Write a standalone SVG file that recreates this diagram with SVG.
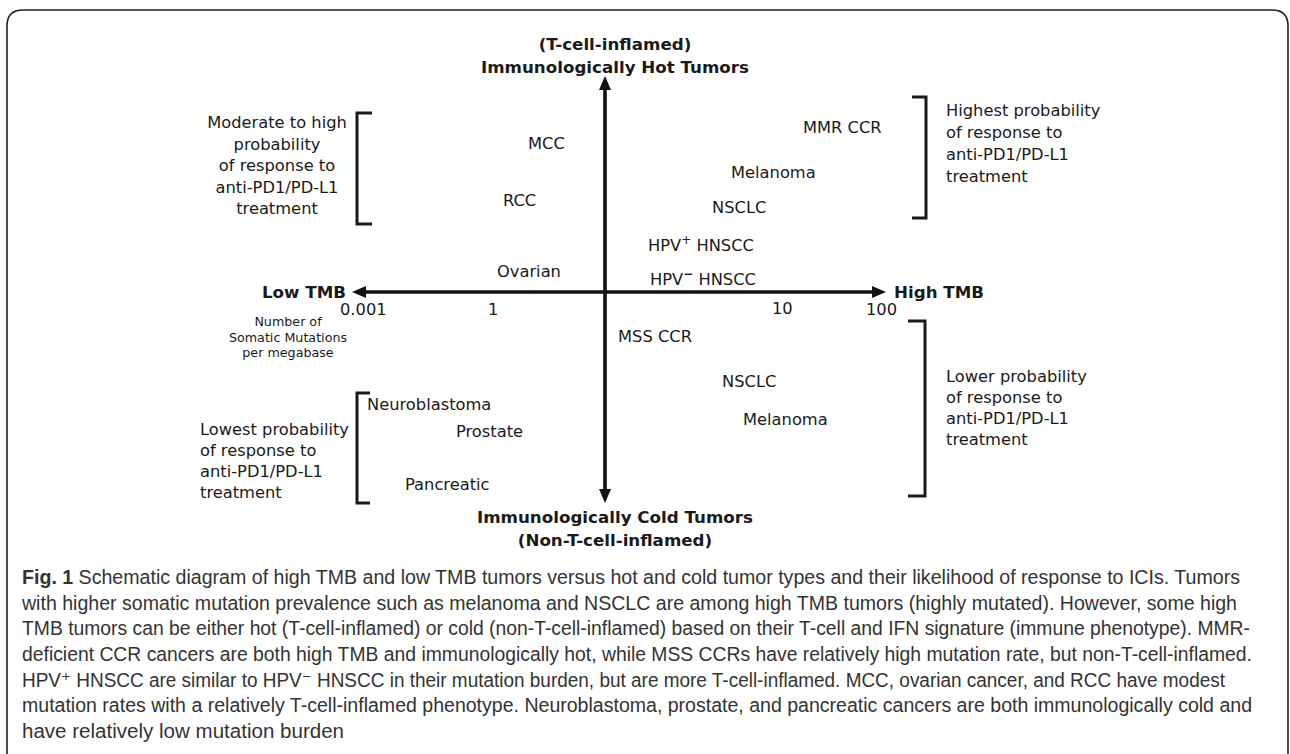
<svg xmlns="http://www.w3.org/2000/svg" width="1290" height="754" viewBox="0 0 1290 754">
<defs>
<style>
.lbl{font-family:"DejaVu Sans","Liberation Sans",sans-serif;font-size:16.3px;fill:#1a1a1a}
.ttl{font-family:"DejaVu Sans","Liberation Sans",sans-serif;font-size:16.7px;font-weight:bold;fill:#1a1a1a}
.sm{font-family:"DejaVu Sans","Liberation Sans",sans-serif;font-size:12.7px;fill:#1a1a1a}
.br{fill:none;stroke:#1a1a1a;stroke-width:3}
.axis{stroke:#111;stroke-width:3.6;fill:none}
.cap{font-family:"Liberation Sans","DejaVu Sans",Arial,sans-serif;font-size:19.5px;fill:#333}
.sup{font-size:12px;baseline-shift:super}
</style>
<marker id="arr" viewBox="0 0 14 12" markerWidth="14" markerHeight="12" refX="0" refY="6" orient="auto-start-reverse" markerUnits="userSpaceOnUse">
<path d="M0,0 L14,6 L0,12 Z" fill="#111"/>
</marker>
</defs>
<rect width="1290" height="754" fill="#fff"/>
<path d="M7,754 V26 Q7,10 23,10 H1272 Q1288,10 1288,26 V754" fill="none" stroke="#222" stroke-width="1.6"/>

<g id="connectors">
<line class="axis" x1="366" y1="292" x2="872" y2="292" marker-start="url(#arr)" marker-end="url(#arr)"/>
<line class="axis" x1="605" y1="90" x2="605" y2="489" marker-start="url(#arr)" marker-end="url(#arr)"/>
</g>

<g id="hot-title" class="ttl" text-anchor="middle">
<text x="615" y="50">(T-cell-inflamed)</text>
<text x="615" y="73">Immunologically Hot Tumors</text>
</g>
<g id="cold-title" class="ttl" text-anchor="middle">
<text x="615" y="523">Immunologically Cold Tumors</text>
<text x="615" y="546">(Non-T-cell-inflamed)</text>
</g>
<g id="low-tmb"><text class="ttl" x="346" y="298" text-anchor="end">Low TMB</text></g>
<g id="high-tmb"><text class="ttl" x="894" y="298">High TMB</text></g>

<g id="scale" class="lbl">
<text x="340" y="315">0.001</text>
<text x="488" y="315">1</text>
<text x="772" y="314">10</text>
<text x="866" y="315">100</text>
</g>
<g id="units" class="sm" text-anchor="middle">
<text x="288" y="326">Number of</text>
<text x="288" y="342">Somatic Mutations</text>
<text x="288" y="357">per megabase</text>
</g>

<g id="bracket-top-left">
<path class="br" d="M372,113 H357 V224 H372"/>
<g class="lbl" text-anchor="middle">
<text x="277" y="128">Moderate to high</text>
<text x="277" y="150">probability</text>
<text x="277" y="171">of response to</text>
<text x="277" y="193">anti-PD1/PD-L1</text>
<text x="277" y="214">treatment</text>
</g>
</g>
<g id="bracket-top-right">
<path class="br" d="M912,97 H926 V218 H912"/>
<g class="lbl">
<text x="946" y="116">Highest probability</text>
<text x="946" y="138">of response to</text>
<text x="946" y="160">anti-PD1/PD-L1</text>
<text x="946" y="182">treatment</text>
</g>
</g>
<g id="bracket-bottom-left">
<path class="br" d="M370,393 H357 V503 H370"/>
<g class="lbl">
<text x="200" y="435">Lowest probability</text>
<text x="200" y="456">of response to</text>
<text x="200" y="477">anti-PD1/PD-L1</text>
<text x="200" y="498">treatment</text>
</g>
</g>
<g id="bracket-bottom-right">
<path class="br" d="M908,321 H925 V496 H908"/>
<g class="lbl">
<text x="946" y="382">Lower probability</text>
<text x="946" y="403">of response to</text>
<text x="946" y="424">anti-PD1/PD-L1</text>
<text x="946" y="445">treatment</text>
</g>
</g>

<g id="mcc"><text class="lbl" x="528" y="149">MCC</text></g>
<g id="rcc"><text class="lbl" x="503" y="206">RCC</text></g>
<g id="ovarian"><text class="lbl" x="497" y="277">Ovarian</text></g>
<g id="mmr-ccr"><text class="lbl" x="803" y="133">MMR CCR</text></g>
<g id="melanoma-hot"><text class="lbl" x="731" y="178">Melanoma</text></g>
<g id="nsclc-hot"><text class="lbl" x="712" y="213">NSCLC</text></g>
<g id="hpv-pos"><text class="lbl" x="648" y="251">HPV<tspan class="sup">+</tspan> HNSCC</text></g>
<g id="hpv-neg"><text class="lbl" x="650" y="285">HPV<tspan class="sup" font-weight="bold">−</tspan> HNSCC</text></g>
<g id="mss-ccr"><text class="lbl" x="618" y="342">MSS CCR</text></g>
<g id="nsclc-cold"><text class="lbl" x="722" y="387">NSCLC</text></g>
<g id="melanoma-cold"><text class="lbl" x="743" y="425">Melanoma</text></g>
<g id="neuroblastoma"><text class="lbl" x="367" y="410">Neuroblastoma</text></g>
<g id="prostate"><text class="lbl" x="456" y="437">Prostate</text></g>
<g id="pancreatic"><text class="lbl" x="405" y="490">Pancreatic</text></g>

<g id="caption" class="cap">
<text x="22" y="584" textLength="1218" lengthAdjust="spacingAndGlyphs"><tspan font-weight="bold">Fig. 1</tspan> Schematic diagram of high TMB and low TMB tumors versus hot and cold tumor types and their likelihood of response to ICIs. Tumors</text>
<text x="22" y="610" textLength="1215" lengthAdjust="spacingAndGlyphs">with higher somatic mutation prevalence such as melanoma and NSCLC are among high TMB tumors (highly mutated). However, some high</text>
<text x="22" y="635" textLength="1228" lengthAdjust="spacingAndGlyphs">TMB tumors can be either hot (T-cell-inflamed) or cold (non-T-cell-inflamed) based on their T-cell and IFN signature (immune phenotype). MMR-</text>
<text x="22" y="661" textLength="1230" lengthAdjust="spacingAndGlyphs">deficient CCR cancers are both high TMB and immunologically hot, while MSS CCRs have relatively high mutation rate, but non-T-cell-inflamed.</text>
<text x="22" y="687" textLength="1203" lengthAdjust="spacingAndGlyphs">HPV⁺ HNSCC are similar to HPV⁻ HNSCC in their mutation burden, but are more T-cell-inflamed. MCC, ovarian cancer, and RCC have modest</text>
<text x="22" y="712" textLength="1230" lengthAdjust="spacingAndGlyphs">mutation rates with a relatively T-cell-inflamed phenotype. Neuroblastoma, prostate, and pancreatic cancers are both immunologically cold and</text>
<text x="22" y="738" textLength="322" lengthAdjust="spacingAndGlyphs">have relatively low mutation burden</text>
</g>
</svg>
